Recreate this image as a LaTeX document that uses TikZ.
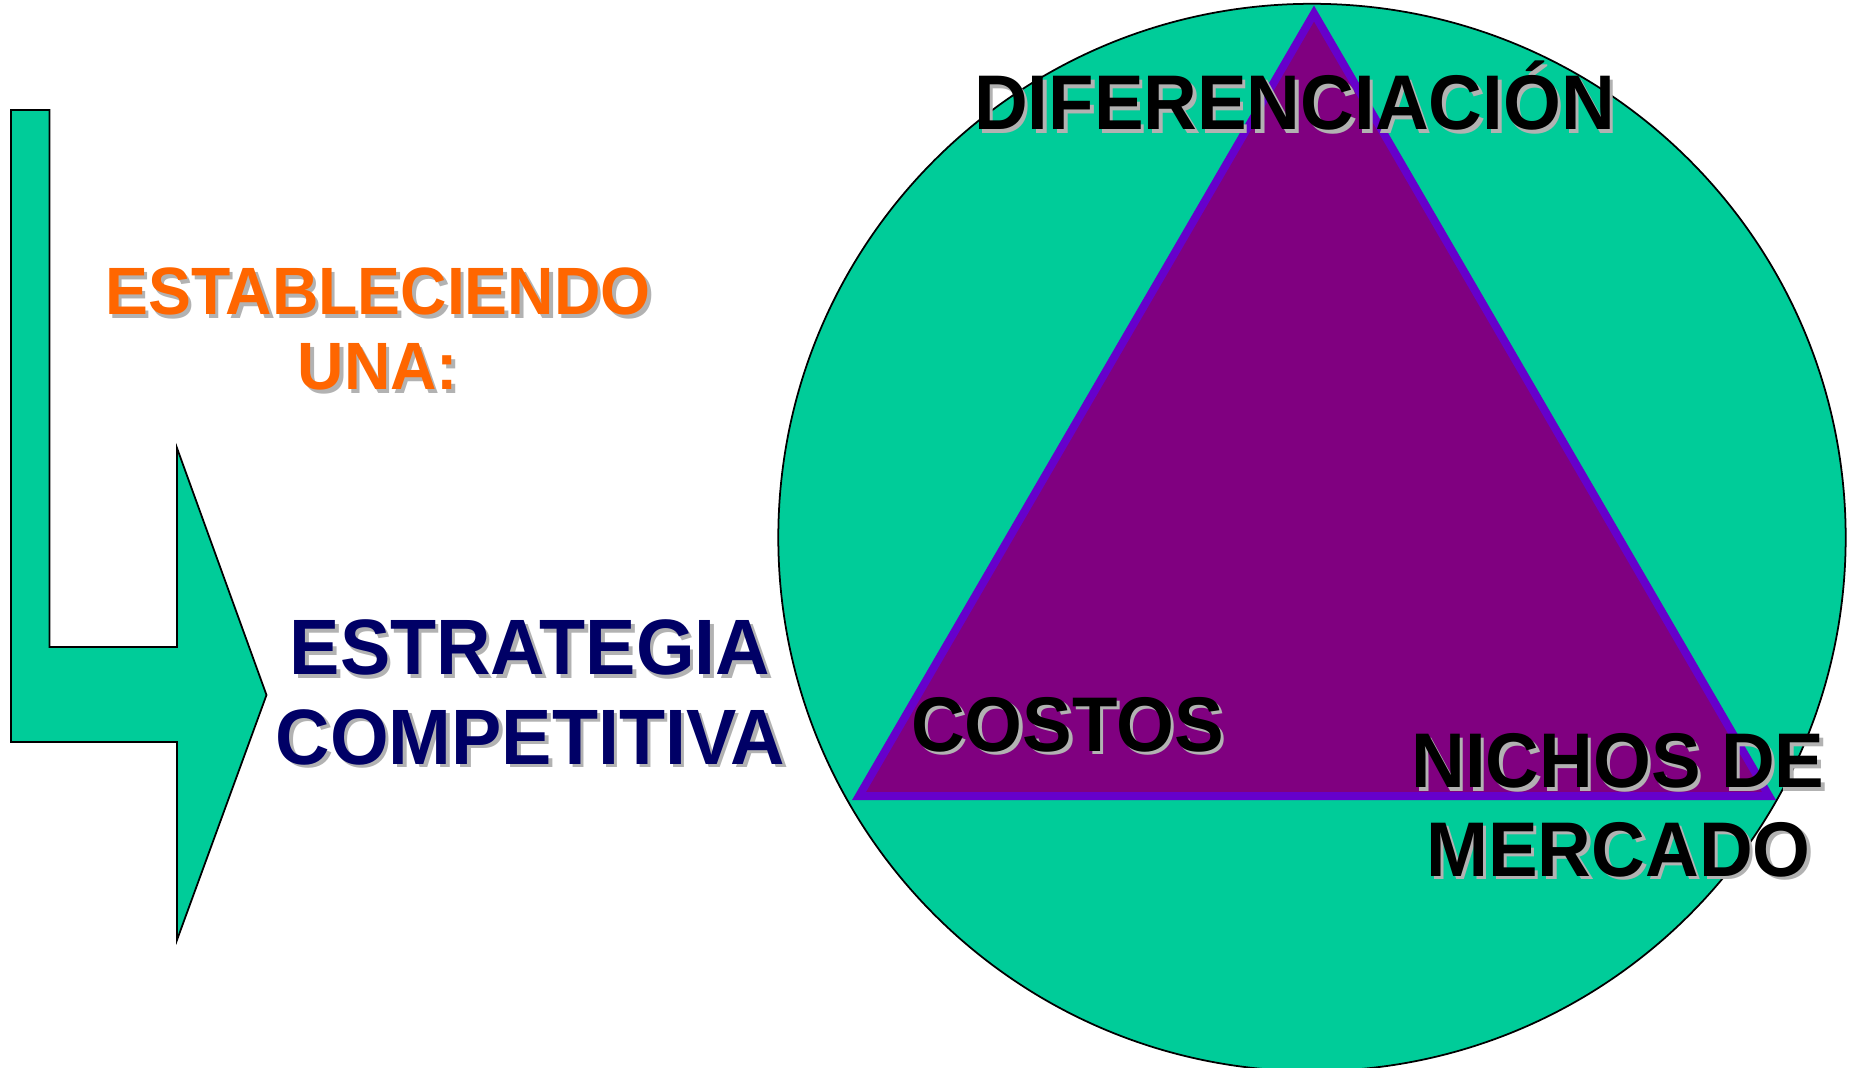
\documentclass[tikz,border=0pt]{standalone}
\usepackage{fontspec}
\setmainfont[FakeStretch=0.96]{Liberation Sans}
\usepackage{tikz}
\definecolor{sea}{RGB}{0,204,153}
\definecolor{plum}{RGB}{128,0,128}
\definecolor{violetline}{RGB}{102,0,204}
\definecolor{orangetxt}{RGB}{255,102,0}
\definecolor{navytxt}{RGB}{0,0,102}
\definecolor{shadowgray}{RGB}{178,178,178}
\newcommand{\shadowtxt}[1]{\rlap{\kern1pt\raisebox{-1pt}{\textcolor{shadowgray}{#1}}}#1}

\begin{document}
\begin{tikzpicture}[
    bigtext/.style = {
      anchor = base,
      inner sep = 0pt,
      font = \bfseries\fontsize{22.05}{25}\selectfont
    },
    navytext/.style = {
      bigtext,
      text = navytxt,
      font = \bfseries\fontsize{22.35}{25}\selectfont
    },
    midtext/.style = {
      bigtext,
      text = orangetxt,
      font = \bfseries\fontsize{19.05}{21}\selectfont
    }
  ]

  \useasboundingbox (0,0) rectangle (18.49,-10.68);

  % bent arrow
  \draw[fill=sea, line width=0.5pt] (0.11,-1.10) -- (0.495,-1.10) -- (0.495,-6.47)
    -- (1.77,-6.47) -- (1.77,-4.48) -- (2.665,-6.95) -- (1.77,-9.40)
    -- (1.77,-7.42) -- (0.11,-7.42) -- cycle;

  % circle and triangle
  \coordinate (hub) at (13.12,-5.375);
  \draw[fill=sea, line width=0.5pt] (hub) circle (5.337);

  \coordinate (top) at (13.14,-0.135);
  \coordinate (lowleft) at (8.59,-7.96);
  \coordinate (lowright) at (17.69,-7.96);
  \draw[fill=plum, draw=violetline, line width=0.08cm] (top) -- (lowleft) -- (lowright) -- cycle;

  \node[bigtext] (dif) at (12.945,-1.297) {\shadowtxt{DIFERENCIACIÓN}};
  \node[bigtext] (costos) at (10.675,-7.51) {\shadowtxt{COSTOS}};
  \node[bigtext] (nichos) at (16.18,-7.878) {\shadowtxt{NICHOS DE}};
  \node[bigtext] (mercado) at (16.185,-8.76) {\shadowtxt{MERCADO}};

  % left texts
  \node[navytext] (estr) at (5.30,-6.746) {\shadowtxt{ESTRATEGIA}};
  \node[navytext] (comp) at (5.305,-7.64) {\shadowtxt{COMPETITIVA}};
  \node[midtext] (estab) at (3.78,-3.15) {\shadowtxt{ESTABLECIENDO}};
  \node[midtext] (una) at (3.78,-3.90) {\shadowtxt{UNA:}};

\end{tikzpicture}
\end{document}
